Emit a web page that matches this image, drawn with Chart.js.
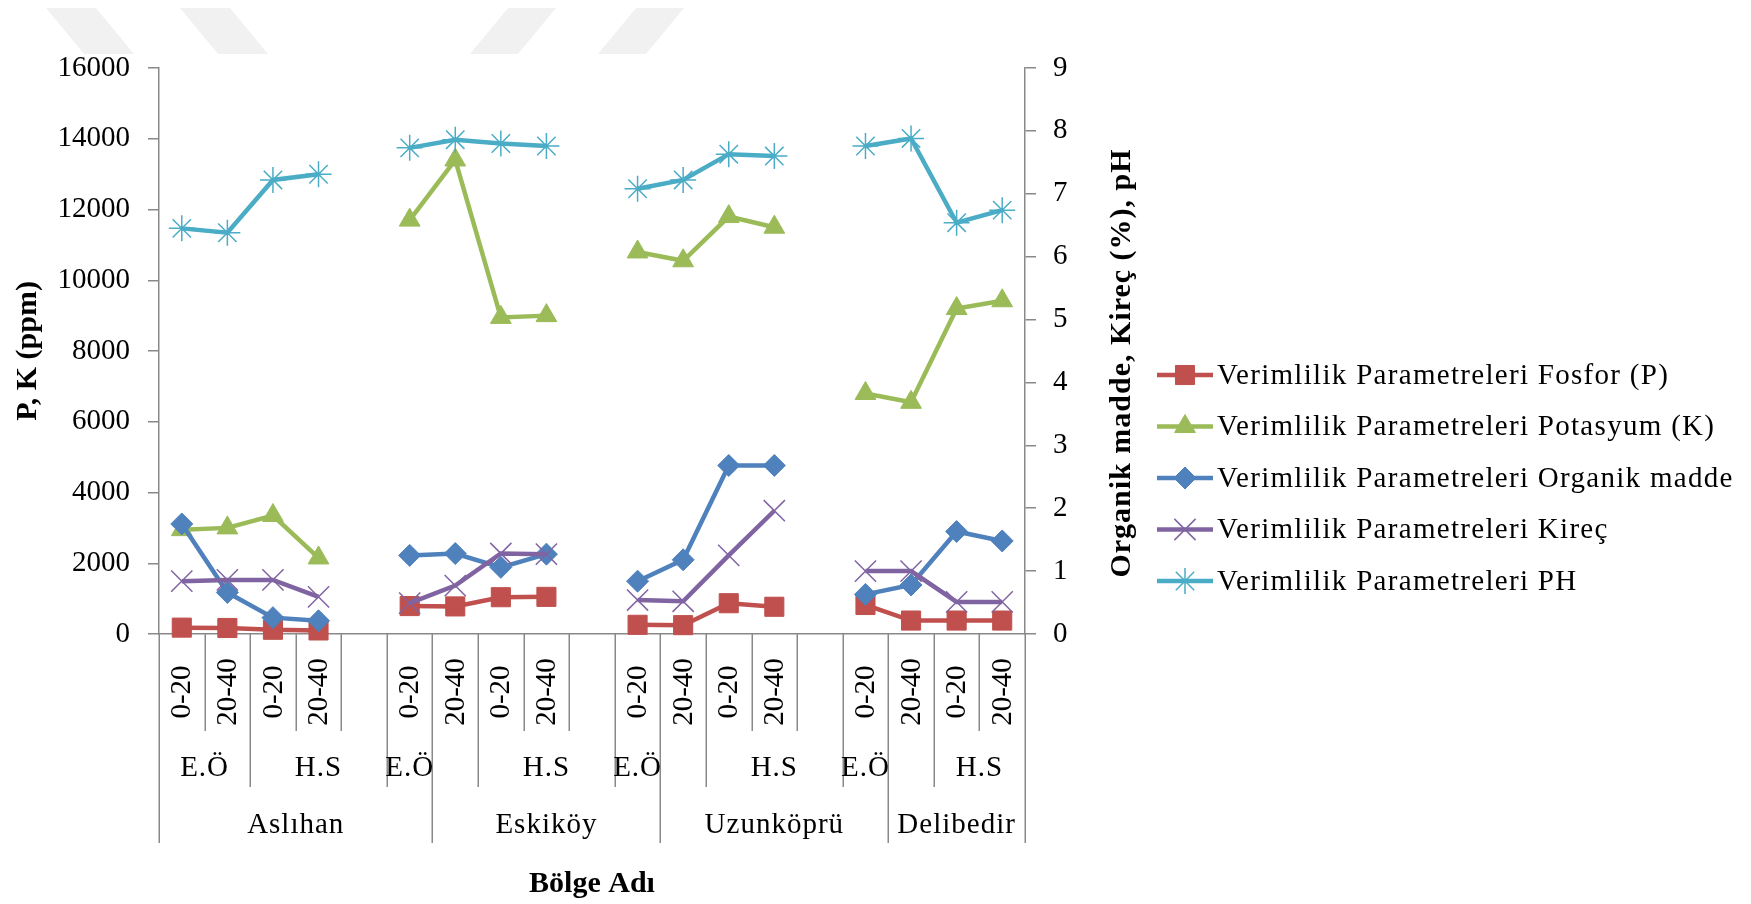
<!DOCTYPE html>
<html>
<head>
<meta charset="utf-8">
<script src="https://cdn.jsdelivr.net/npm/chart.js@4.4.0/dist/chart.umd.min.js"></script>
<style>
  html, body { margin: 0; padding: 0; background: #fff; }
  canvas { display: block; }
</style>
</head>
<body>
<canvas id="chart" width="1751" height="904"></canvas>
<script>
// category slots (blank slots separate the regions)
const depthLabels = ['0-20', '20-40', '0-20', '20-40', '',
                     '0-20', '20-40', '0-20', '20-40', '',
                     '0-20', '20-40', '0-20', '20-40', '',
                     '0-20', '20-40', '0-20', '20-40'];
const treatmentNames  = ['E.Ö', 'H.S', 'E.Ö', '', 'H.S', 'E.Ö', '', 'H.S', 'E.Ö', '', 'H.S'];
const treatmentStarts = [0, 2, 5, 6, 7, 10, 11, 12, 15, 16, 17];
const regionNames  = ['Aslıhan', 'Eskiköy', 'Uzunköprü', 'Delibedir'];
const regionStarts = [0, 6, 11, 16];

// left axis (ppm)
const fosfor   = [180, 170, 120, 100, null, 790, 780, 1040, 1050, null, 260, 250, 870, 770, null, 820, 380, 380, 380];
const potasyum = [2950, 3000, 3350, 2150, null, 11700, 13400, 8950, 9000, null, 10800, 10550, 11800, 11500, null, 6800, 6550, 9200, 9420];
// right axis (%, pH)
const organik  = [1.75, 0.66, 0.26, 0.21, null, 1.25, 1.28, 1.06, 1.27, null, 0.84, 1.18, 2.68, 2.68, null, 0.63, 0.78, 1.63, 1.48];
const kirec    = [0.84, 0.86, 0.86, 0.59, null, 0.49, 0.77, 1.28, 1.27, null, 0.54, 0.52, 1.25, 1.96, null, 1.0, 1.0, 0.51, 0.51];
const ph       = [6.45, 6.38, 7.22, 7.31, null, 7.73, 7.86, 7.80, 7.76, null, 7.08, 7.22, 7.63, 7.60, null, 7.76, 7.88, 6.54, 6.74];

const FONT = "'Liberation Serif', 'Times New Roman', serif";
const GRAY = '#898989';
Chart.defaults.font.family = FONT;
Chart.defaults.color = '#000';

function series(label, data, color, style, radius, axis, order, pbw) {
    return {
        label: label,
        data: data,
        yAxisID: axis,
        borderColor: color,
        backgroundColor: color,
        borderWidth: 4.5,
        pointStyle: style,
        pointRadius: radius,
        pointBorderWidth: pbw || 1,
        pointBackgroundColor: color,
        pointBorderColor: color,
        tension: 0,
        clip: false,
        order: order
    };
}

// faint watermark stripes at the top
const watermark = {
    id: 'watermark',
    beforeDraw(chart) {
        const ctx = chart.ctx;
        ctx.save();
        ctx.fillStyle = '#f1f1f1';
        const shapes = [
            [[46, 8], [96, 8], [134, 54], [84, 54]],
            [[180, 8], [230, 8], [268, 54], [218, 54]],
            [[508, 8], [556, 8], [518, 54], [470, 54]],
            [[636, 8], [684, 8], [646, 54], [598, 54]]
        ];
        shapes.forEach(s => {
            ctx.beginPath();
            ctx.moveTo(s[0][0], s[0][1]);
            for (let i = 1; i < s.length; i++) ctx.lineTo(s[i][0], s[i][1]);
            ctx.closePath();
            ctx.fill();
        });
        ctx.restore();
    }
};

// multi-level category labels under the x axis
const multiLevel = {
    id: 'multiLevel',
    afterDraw(chart) {
        const ctx = chart.ctx;
        const x = chart.scales.x;
        const half = (x.getPixelForValue(1) - x.getPixelForValue(0)) / 2;
        const edge = k => x.getPixelForValue(k) - half;
        const base = chart.chartArea.bottom;
        const n = depthLabels.length;

        const lvl2 = treatmentStarts.concat([n]);
        const lvl3 = regionStarts.concat([n]);

        ctx.save();
        ctx.strokeStyle = GRAY;
        ctx.lineWidth = 1.5;
        for (let k = 0; k <= n; k++) {
            let end = base + 97;
            if (lvl2.includes(k)) end = base + 153;
            if (lvl3.includes(k)) end = base + 209;
            const px = Math.round(edge(k)) + 0.25;
            ctx.beginPath();
            ctx.moveTo(px, base);
            ctx.lineTo(px, end);
            ctx.stroke();
        }

        ctx.fillStyle = '#000';
        ctx.textAlign = 'center';
        ctx.textBaseline = 'middle';

        // depth labels, rotated
        ctx.font = '29px ' + FONT;
        depthLabels.forEach((lab, i) => {
            if (!lab) return;
            ctx.save();
            ctx.translate(x.getPixelForValue(i), base + 58);
            ctx.rotate(-Math.PI / 2);
            ctx.fillText(lab, 0, 1);
            ctx.restore();
        });

        ctx.font = '29px ' + FONT;
        ctx.letterSpacing = '1px';
        treatmentNames.forEach((lab, i) => {
            if (!lab) return;
            const cx = (edge(lvl2[i]) + edge(lvl2[i + 1])) / 2;
            ctx.fillText(lab, cx, base + 134);
        });
        regionNames.forEach((lab, i) => {
            const cx = (edge(lvl3[i]) + edge(lvl3[i + 1])) / 2;
            ctx.fillText(lab, cx, base + 191);
        });
        ctx.restore();
    }
};

// right axis title reads bottom-to-top, and the legend on the right
const sideParts = {
    id: 'sideParts',
    afterDraw(chart) {
        const ctx = chart.ctx;
        const area = chart.chartArea;
        ctx.save();
        ctx.fillStyle = '#000';
        ctx.textAlign = 'center';
        ctx.textBaseline = 'middle';
        ctx.font = 'bold 30px ' + FONT;
        ctx.letterSpacing = '1px';
        ctx.translate(area.right + 97, (area.top + area.bottom) / 2 + 12);
        ctx.rotate(-Math.PI / 2);
        ctx.fillText('Organik madde, Kireç (%), pH', 0, 0);
        ctx.restore();

        const lx = 1157, ly = 375, gap = 51.5;
        ctx.save();
        chart.data.datasets.forEach((ds, i) => {
            const y = ly + i * gap;
            ctx.strokeStyle = ds.borderColor;
            ctx.lineWidth = 4.5;
            ctx.beginPath();
            ctx.moveTo(lx, y);
            ctx.lineTo(lx + 56, y);
            ctx.stroke();
            if (Chart.helpers && Chart.helpers.drawPoint) {
                ctx.fillStyle = ds.pointBackgroundColor;
                ctx.strokeStyle = ds.pointBorderColor;
                ctx.lineWidth = ds.pointBorderWidth;
                Chart.helpers.drawPoint(ctx, {
                    pointStyle: ds.pointStyle,
                    radius: ds.pointRadius,
                    rotation: 0,
                    borderWidth: ds.pointBorderWidth
                }, lx + 28, y);
            }
            ctx.fillStyle = '#000';
            ctx.textAlign = 'left';
            ctx.textBaseline = 'middle';
            ctx.font = '29px ' + FONT;
            ctx.letterSpacing = '1.3px';
            ctx.fillText(ds.label, lx + 60, y + 1);
        });
        ctx.restore();
    }
};

new Chart(document.getElementById('chart').getContext('2d'), {
    type: 'line',
    data: {
        labels: depthLabels,
        datasets: [
            series('Verimlilik Parametreleri Fosfor (P)', fosfor, '#C0504D', 'rect', 13.5, 'y', 5),
            series('Verimlilik Parametreleri Potasyum (K)', potasyum, '#9BBB59', 'triangle', 12, 'y', 4),
            series('Verimlilik Parametreleri Organik madde', organik, '#4F81BD', 'rectRot', 11, 'y1', 3),
            series('Verimlilik Parametreleri Kireç', kirec, '#8064A2', 'crossRot', 15, 'y1', 2, 1.5),
            series('Verimlilik Parametreleri PH', ph, '#4BACC6', 'star', 13, 'y1', 1, 1.5)
        ]
    },
    options: {
        responsive: false,
        animation: false,
        events: [],
        layout: { padding: { left: 0, right: 610, top: 68, bottom: 0 } },
        plugins: {
            legend: { display: false },
            tooltip: { enabled: false }
        },
        scales: {
            x: {
                type: 'category',
                offset: true,
                grid: { display: false },
                border: { display: true, color: GRAY, width: 1.5 },
                ticks: { display: false },
                title: {
                    display: true,
                    text: 'Bölge Adı',
                    font: { size: 30, weight: 'bold' },
                    padding: { top: 0, bottom: 2 }
                },
                afterFit(scale) { scale.height = 270; }
            },
            y: {
                position: 'left',
                min: 0,
                max: 16000,
                ticks: {
                    stepSize: 2000,
                    padding: 18,
                    font: { size: 29 },
                    callback: v => String(v)
                },
                grid: { drawOnChartArea: false, tickLength: 11, color: GRAY, lineWidth: 1.5 },
                border: { color: GRAY, width: 1.5 },
                title: {
                    display: true,
                    text: 'P, K (ppm)',
                    font: { size: 30, weight: 'bold' },
                    padding: { top: 10, bottom: 0 }
                },
                afterFit(scale) { scale.width = 159; }
            },
            y1: {
                position: 'right',
                min: 0,
                max: 9,
                ticks: { stepSize: 1, padding: 17, font: { size: 29 }, callback: v => String(v) },
                grid: { drawOnChartArea: false, tickLength: 11, color: GRAY, lineWidth: 1.5 },
                border: { color: GRAY, width: 1.5 },
                afterFit(scale) { scale.width = 116; }
            }
        }
    },
    plugins: [watermark, multiLevel, sideParts]
});
</script>
</body>
</html>
